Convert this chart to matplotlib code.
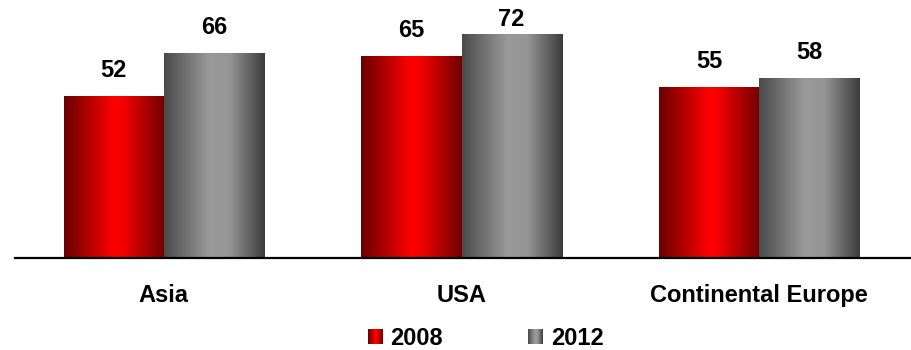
import numpy as np
import matplotlib.pyplot as plt
from matplotlib.patches import Rectangle
from matplotlib.colors import LinearSegmentedColormap

plt.rcParams['font.family'] = ['Liberation Sans', 'DejaVu Sans']

regions = ["Asia", "USA", "Continental Europe"]
years = ["2008", "2012"]
values_2008 = [52, 65, 55]
values_2012 = [66, 72, 58]

# cylinder-like horizontal shading for each series
red_shade = LinearSegmentedColormap.from_list(
    "red_shade", [(0, "#6a0000"), (0.5, "#ff0000"), (0.6, "#f00000"), (1, "#700000")])
grey_shade = LinearSegmentedColormap.from_list(
    "grey_shade", [(0, "#4a4a4a"), (0.45, "#9a9a9a"), (0.65, "#959595"), (1, "#3c3c3c")])

fig = plt.figure(figsize=(9.11, 3.5), dpi=100)
ax = fig.add_axes([15 / 911, (350 - 258) / 350, 1 - 15 / 911, 258 / 350])

x = np.arange(len(regions))
width = 0.336
grad = np.linspace(0, 1, 256).reshape(1, -1)
label_ceiling = 74.5  # keep labels inside the plot area


def shaded_bars(xpos, heights, cmap):
    for xi, h in zip(xpos, heights):
        rect = Rectangle((xi - width / 2, 0), width, h, facecolor="none", edgecolor="none")
        ax.add_patch(rect)
        im = ax.imshow(grad, cmap=cmap, aspect="auto",
                       extent=(xi - width / 2, xi + width / 2, 0, h), zorder=2)
        im.set_clip_path(rect)
        ax.text(xi, min(h + 6.1, label_ceiling), str(h), ha="center", va="baseline",
                fontsize=17, fontweight="bold")


shaded_bars(x - width / 2, values_2008, red_shade)
shaded_bars(x + width / 2, values_2012, grey_shade)

ax.set_xlim(-0.5, 2.51)
ax.set_ylim(0, 83)
for side in ["left", "right", "top"]:
    ax.spines[side].set_visible(False)
ax.spines["bottom"].set_linewidth(1.6)
ax.set_yticks([])
ax.set_xticks(x)
ax.set_xticklabels(regions, fontsize=17, fontweight="bold")
ax.tick_params(axis="x", length=0, pad=19)

# legend drawn by hand so the swatches keep the shading
for lx, tx, cmap, label in [(368, 390, red_shade, years[0]), (528, 551, grey_shade, years[1])]:
    sw = fig.add_axes([lx / 911, (350 - 344) / 350, 15 / 911, 15 / 350])
    sw.imshow(grad, cmap=cmap, aspect="auto")
    sw.set_axis_off()
    fig.text(tx / 911, (350 - 345) / 350, label, fontsize=17, fontweight="bold",
             ha="left", va="baseline")

fig.savefig("out.png", dpi=100)
